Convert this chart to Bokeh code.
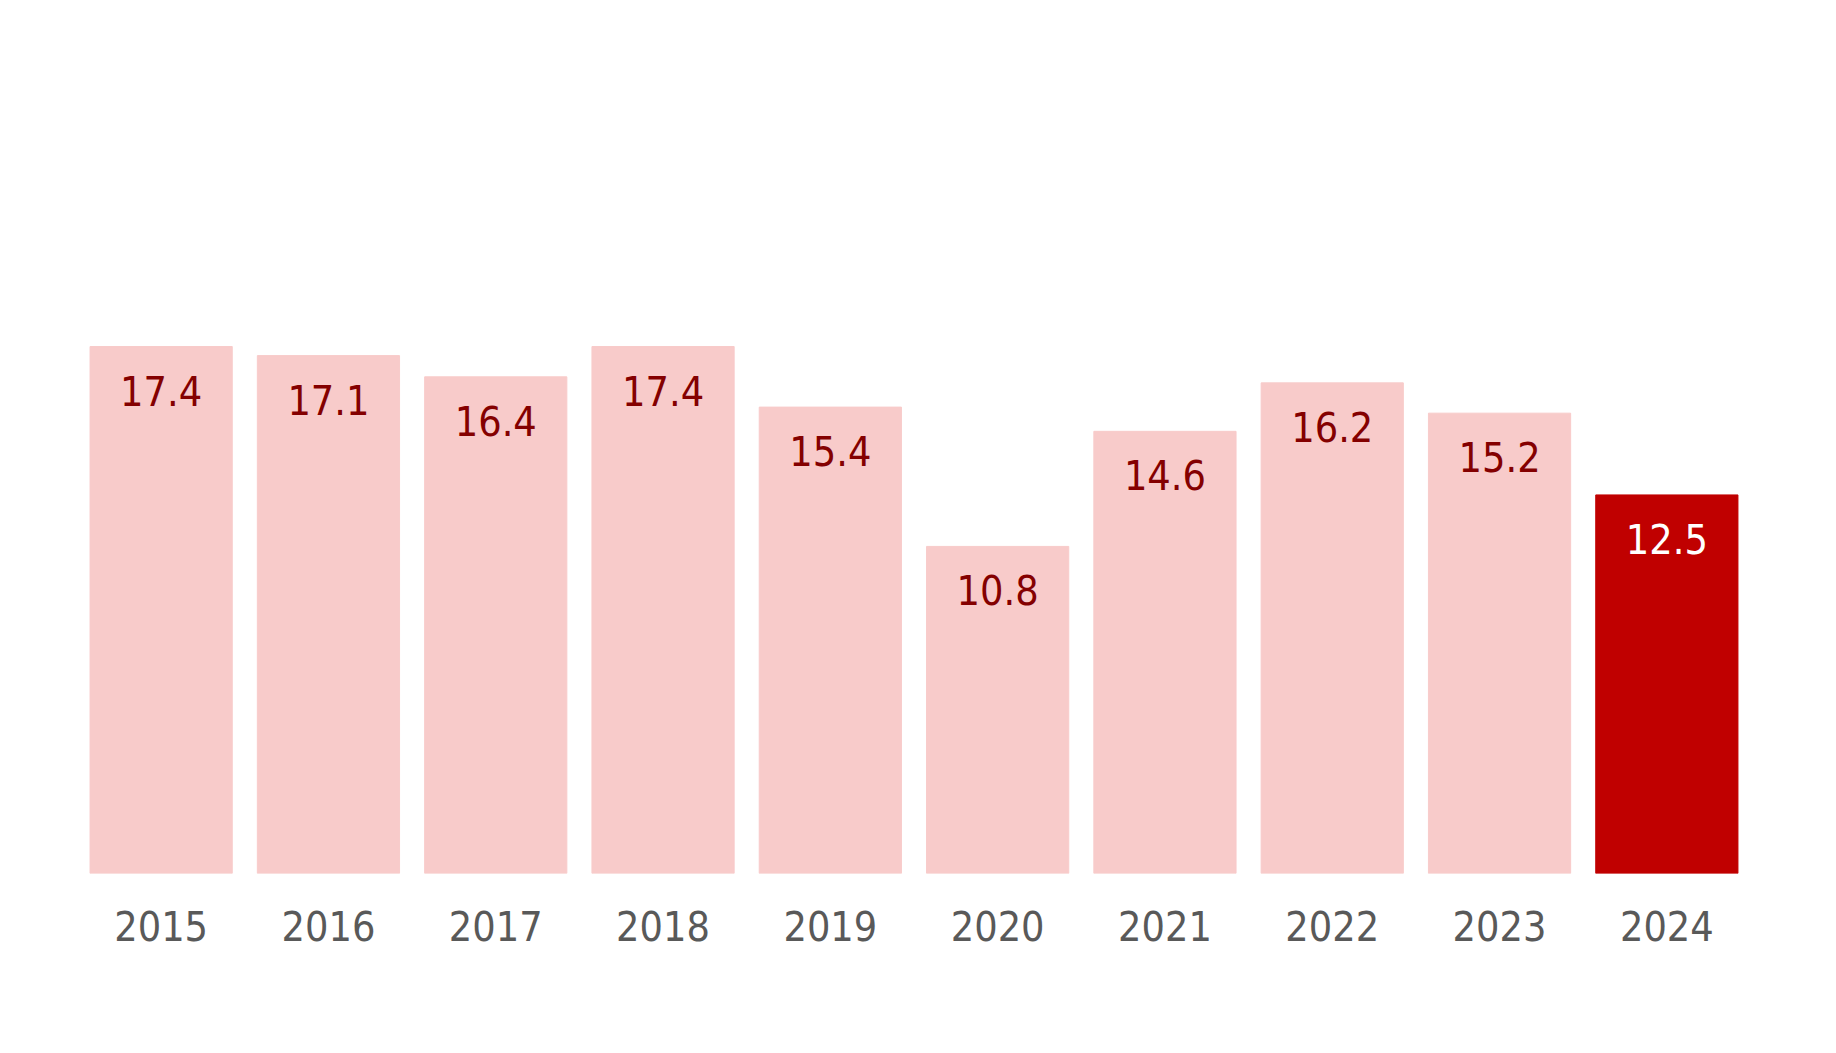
from bokeh.plotting import figure
from bokeh.models import ColumnDataSource, FactorRange, Range1d
from bokeh.core.properties import value
from bokeh.embed import file_html
from bokeh.resources import INLINE

years = ["2015", "2016", "2017", "2018", "2019", "2020", "2021", "2022", "2023", "2024"]
values = [17.4, 17.1, 16.4, 17.4, 15.4, 10.8, 14.6, 16.2, 15.2, 12.5]
bar_colors = ["#F8CBCA"] * 9 + ["#C00000"]
label_colors = ["#840000"] * 9 + ["#FFFFFF"]
labels = [f"{v:.1f}" for v in values]

src = ColumnDataSource(dict(x=years, top=values, color=bar_colors, lc=label_colors, label=labels))

FONT = "DejaVu Sans Condensed"

p = figure(width=1820, height=1037, x_range=FactorRange(*years, range_padding=0),
           y_range=Range1d(0, 28), output_backend="svg", toolbar_location=None,
           min_border_left=77, min_border_right=70, min_border_top=25, min_border_bottom=164)
p.vbar(x="x", top="top", width=0.85, color="color", source=src)
p.text(x="x", y="top", text="label", text_color="lc", source=src,
       text_font=value(FONT), text_font_size="41px", text_align="center",
       text_baseline="alphabetic", y_offset=44)

p.outline_line_color = None
p.grid.visible = False
p.yaxis.visible = False
p.xaxis.axis_line_color = None
p.xaxis.major_tick_line_color = None
p.xaxis.minor_tick_line_color = None
p.xaxis.major_label_text_font = FONT
p.xaxis.major_label_text_font_size = "41px"
p.xaxis.major_label_text_color = "#595959"
p.xaxis.major_label_standoff = 31
p.background_fill_color = "white"
p.border_fill_color = "white"

open("out.html", "w").write(file_html(p, INLINE))
